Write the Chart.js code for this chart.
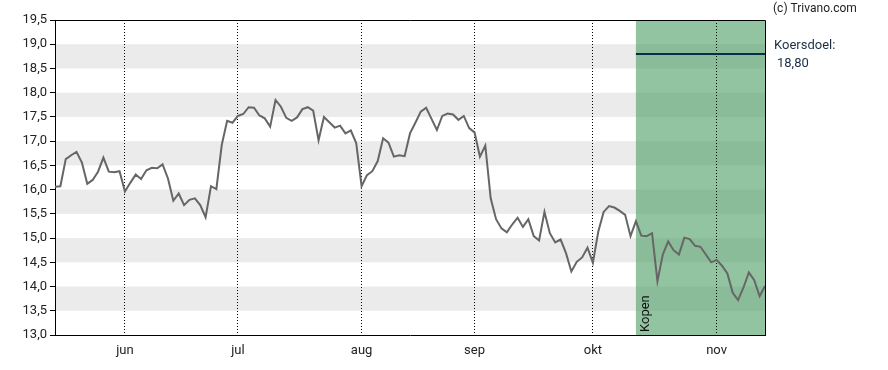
<!DOCTYPE html>
<html lang="nl">
<head>
<meta charset="UTF-8">
<title>Koers</title>
<script src="https://cdn.jsdelivr.net/npm/chart.js"></script>
<style>
  body { margin: 0; background: #fff; }
  #wrap { width: 888px; height: 370px; }
</style>
</head>
<body>
<div id="wrap"><canvas id="koers" width="888" height="370"></canvas></div>
<script>
// slotkoersen per handelsdag (14 mei t/m 13 nov)
const prices = [
  16.06, 16.07, 16.63, 16.71, 16.78, 16.56, 16.12, 16.20, 16.37, 16.66,
  16.37, 16.36, 16.38, 15.96, 16.14, 16.31, 16.22, 16.40, 16.45, 16.44,
  16.52, 16.23, 15.77, 15.92, 15.68, 15.79, 15.82, 15.68, 15.43, 16.07,
  16.01, 16.92, 17.42, 17.38, 17.52, 17.56, 17.70, 17.69, 17.53, 17.47,
  17.30, 17.85, 17.71, 17.48, 17.42, 17.49, 17.66, 17.70, 17.63, 17.02,
  17.50, 17.39, 17.28, 17.32, 17.16, 17.22, 16.96, 16.07, 16.30, 16.38,
  16.59, 17.06, 16.97, 16.68, 16.71, 16.69, 17.16, 17.38, 17.61, 17.69,
  17.46, 17.23, 17.52, 17.57, 17.55, 17.44, 17.52, 17.27, 17.18, 16.68,
  16.91, 15.82, 15.39, 15.20, 15.12, 15.28, 15.42, 15.23, 15.39, 15.04,
  14.95, 15.54, 15.10, 14.91, 14.97, 14.69, 14.31, 14.51, 14.60, 14.80,
  14.49, 15.13, 15.54, 15.66, 15.63, 15.56, 15.48, 15.04, 15.35, 15.05,
  15.04, 15.10, 14.11, 14.66, 14.93, 14.75, 14.66, 15.01, 14.98, 14.84,
  14.82, 14.66, 14.50, 14.55, 14.43, 14.27, 13.87, 13.72, 13.98, 14.29,
  14.13, 13.80, 14.01
];
const monthLabels = ['jun', 'jul', 'aug', 'sep', 'okt', 'nov'];
const monthStart = [13, 34, 57, 78, 100, 123];   // index eerste handelsdag
const bandFrom = [13.5, 14.5, 15.5, 16.5, 17.5, 18.5];
const buyStart = 108;        // advies "Kopen" vanaf deze dag
const target = 18.80;        // koersdoel

const lastIdx = prices.length - 1;
const fmt = v => v.toFixed(1).replace('.', ',');

// achtergrond: grijze banden + groene adviesvlak
const backdrop = {
  id: 'backdrop',
  beforeDraw(chart) {
    const { ctx, chartArea: a, scales: { x, y } } = chart;
    ctx.save();
    ctx.fillStyle = '#ebebeb';
    bandFrom.forEach(b => {
      const top = y.getPixelForValue(b + 0.5);
      const bot = y.getPixelForValue(b);
      ctx.fillRect(a.left, top, a.right - a.left, bot - top);
    });
    ctx.fillStyle = 'rgba(75, 157, 98, 0.6)';
    const gx = x.getPixelForValue(buyStart);
    ctx.fillRect(gx, a.top, a.right - gx, a.bottom - a.top);
    ctx.restore();
  },
  afterDraw(chart) {
    const { ctx, chartArea: a, scales: { x } } = chart;
    ctx.save();
    // kader boven en rechts
    ctx.strokeStyle = '#000';
    ctx.lineWidth = 1;
    ctx.beginPath();
    ctx.moveTo(a.left, Math.round(a.top) + 0.5);
    ctx.lineTo(Math.round(a.right) + 0.5, Math.round(a.top) + 0.5);
    ctx.lineTo(Math.round(a.right) + 0.5, a.bottom);
    ctx.stroke();
    // "Kopen" verticaal
    ctx.translate(x.getPixelForValue(buyStart) + 10, a.bottom - 3);
    ctx.rotate(-Math.PI / 2);
    ctx.fillStyle = '#111';
    ctx.font = '13px Roboto';
    ctx.textAlign = 'left';
    ctx.textBaseline = 'middle';
    ctx.fillText('Kopen', 0, 0);
    ctx.restore();
    // teksten rechts
    ctx.save();
    ctx.textAlign = 'left';
    ctx.textBaseline = 'middle';
    ctx.fillStyle = '#222';
    ctx.font = '12px Roboto';
    ctx.fillText('(c) Trivano.com', 773, 9);
    ctx.fillStyle = '#1a2e44';
    ctx.font = '13px Roboto';
    ctx.fillText('Koersdoel:', 774, 46);
    ctx.fillText(target.toFixed(2).replace('.', ','), 777, 64);
    ctx.restore();
  }
};

new Chart(document.getElementById('koers'), {
  type: 'line',
  data: {
    datasets: [
      {
        data: prices.map((v, i) => ({ x: i, y: v })),
        borderColor: '#666666',
        borderWidth: 2,
        pointRadius: 0,
        tension: 0
      },
      {
        data: [{ x: buyStart, y: target }, { x: lastIdx, y: target }],
        borderColor: '#0b2d46',
        borderWidth: 2,
        pointRadius: 0
      }
    ]
  },
  options: {
    responsive: false,
    animation: false,
    layout: { padding: { top: 20, right: 123, left: 0, bottom: 0 } },
    plugins: { legend: { display: false }, tooltip: { enabled: false } },
    scales: {
      x: {
        type: 'linear',
        min: 0,
        max: lastIdx,
        afterBuildTicks: s => { s.ticks = monthStart.map(v => ({ value: v })); },
        afterFit: s => { s.height = 35; },
        ticks: {
          callback: (v) => monthLabels[monthStart.indexOf(v)],
          autoSkip: false,
          maxRotation: 0,
          padding: 8,
          color: '#222',
          font: { family: 'Roboto', size: 13 }
        },
        grid: { color: '#000', lineWidth: 1, drawTicks: false },
        border: { display: true, color: '#000', width: 1, dash: [1, 2] }
      },
      y: {
        min: 13,
        max: 19.5,
        afterFit: s => { s.width = 55; },
        ticks: {
          stepSize: 0.5,
          callback: v => fmt(v),
          padding: 3,
          color: '#222',
          font: { family: 'Roboto', size: 13 }
        },
        grid: { drawOnChartArea: false, drawTicks: true, tickLength: 5, color: '#000' },
        border: { display: true, color: '#000', width: 1 }
      }
    }
  },
  plugins: [backdrop]
});
</script>
</body>
</html>
